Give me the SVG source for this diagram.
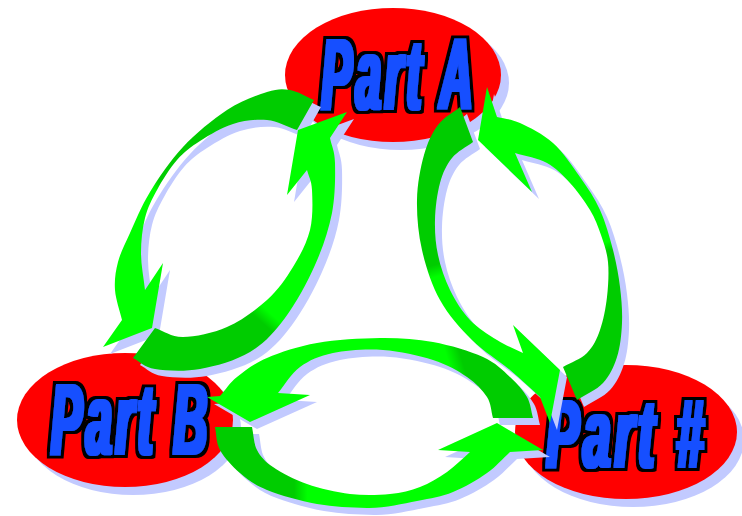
<svg xmlns="http://www.w3.org/2000/svg" xmlns:xlink="http://www.w3.org/1999/xlink" width="742" height="516" viewBox="0 0 742 516">
<style>
.sh{fill:#c2caff}
.el{fill:#ff0000}
.lbl{filter:url(#fat)}
.txt{font-family:"Liberation Sans",Arial,sans-serif;font-weight:bold;font-style:italic;font-size:100px;letter-spacing:8px;fill:#1450ff;text-anchor:middle}
</style>
<defs>
<filter id="fat" x="-15%" y="-20%" width="130%" height="140%">
<feMorphology in="SourceAlpha" operator="dilate" radius="2 1" result="a"/>
<feFlood flood-color="#1450ff"/>
<feComposite in2="a" operator="in" result="blue"/>
<feMorphology in="a" operator="dilate" radius="2.5" result="b"/>
<feFlood flood-color="#000000"/>
<feComposite in2="b" operator="in" result="black"/>
<feMerge><feMergeNode in="black"/><feMergeNode in="blue"/></feMerge>
</filter>
<linearGradient id="gL1" gradientUnits="userSpaceOnUse" x1="110" y1="300" x2="300" y2="100"><stop offset="0" stop-color="#00ff00"/><stop offset="0.40" stop-color="#00ff00"/><stop offset="0.44" stop-color="#00cc00"/><stop offset="1" stop-color="#00cc00"/></linearGradient>
<linearGradient id="gL2" gradientUnits="userSpaceOnUse" x1="133" y1="358" x2="340" y2="125"><stop offset="0" stop-color="#00cc00"/><stop offset="0.36" stop-color="#00cc00"/><stop offset="0.40" stop-color="#00ff00"/><stop offset="1" stop-color="#00ff00"/></linearGradient>
<linearGradient id="gR1" gradientUnits="userSpaceOnUse" x1="465" y1="115" x2="545" y2="400"><stop offset="0" stop-color="#00cc00"/><stop offset="0.46" stop-color="#00cc00"/><stop offset="0.50" stop-color="#00ff00"/><stop offset="1" stop-color="#00ff00"/></linearGradient>
<linearGradient id="gR2" gradientUnits="userSpaceOnUse" x1="577" y1="395" x2="490" y2="100"><stop offset="0" stop-color="#00cc00"/><stop offset="0.42" stop-color="#00cc00"/><stop offset="0.45" stop-color="#00ff00"/><stop offset="1" stop-color="#00ff00"/></linearGradient>
<linearGradient id="gB1" gradientUnits="userSpaceOnUse" x1="210" y1="420" x2="540" y2="320"><stop offset="0" stop-color="#00ff00"/><stop offset="0.71" stop-color="#00ff00"/><stop offset="0.75" stop-color="#00cc00"/><stop offset="1" stop-color="#00cc00"/></linearGradient>
<linearGradient id="gB2" gradientUnits="userSpaceOnUse" x1="215" y1="440" x2="545" y2="440"><stop offset="0" stop-color="#00cc00"/><stop offset="0.24" stop-color="#00cc00"/><stop offset="0.28" stop-color="#00ff00"/><stop offset="1" stop-color="#00ff00"/></linearGradient>
<path id="pL1" d="M314,100 C306,96.7 297.8,91.3 290,90 C282.2,88.7 277.5,88.7 267,92 C256.5,95.3 241,100.8 227,110 C213,119.2 195.8,133.3 183,147 C170.2,160.7 158.8,177.7 150,192 C141.2,206.3 135.3,221.3 130,233 C124.7,244.7 120.5,252.5 118,262 C115.5,271.5 114.3,280.3 115,290 C115.7,299.7 119.7,310 122,320 L103,347 L152,328 L163,263 L145,290 C143.7,277.7 141,265 141,253 C141,241 142.3,228.5 145,218 C147.7,207.5 151.7,199.7 157,190 C162.3,180.3 169.8,168.2 177,160 C184.2,151.8 190.7,147 200,141 C209.3,135 221.8,127.5 233,124 C244.2,120.5 256.3,119 267,120 C277.7,121 287,126.7 297,130 Z"/>
<path id="pL2" d="M133,358 C140.3,361.7 143.8,367.2 155,369 C166.2,370.8 184.2,371.8 200,369 C215.8,366.2 235.8,360.5 250,352 C264.2,343.5 274.2,332.5 285,318 C295.8,303.5 307.2,282.5 315,265 C322.8,247.5 328.7,230 332,213 C335.3,196 335.3,175.5 335,163 C334.7,150.5 331.7,146.3 330,138 L347,112 L298,130 L287,195 L307,170 C308.7,176.7 311.5,180 312,190 C312.5,200 313.2,217.2 310,230 C306.8,242.8 300.2,255.3 293,267 C285.8,278.7 278,290 267,300 C256,310 241,320.8 227,327 C213,333.2 195,336.8 183,337 C171,337.2 164.3,331 155,328 Z"/>
<path id="pR1" d="M460,107 C452.7,113 444,117 438,125 C432,133 427.5,142.5 424,155 C420.5,167.5 417.3,184.2 417,200 C416.7,215.8 418.2,233.3 422,250 C425.8,266.7 431.7,285 440,300 C448.3,315 460.3,328.3 472,340 C483.7,351.7 498.7,360.5 510,370 C521.3,379.5 530,388 540,397 L550,423 L560,370 L513,325 L523,353 C514.3,348.7 505.8,345.5 497,340 C488.2,334.5 477.8,328.3 470,320 C462.2,311.7 455.3,300.8 450,290 C444.7,279.2 440.5,266.7 438,255 C435.5,243.3 434.7,232 435,220 C435.3,208 437.2,193.3 440,183 C442.8,172.7 446.5,164.8 452,158 C457.5,151.2 466,147.3 473,142 Z"/>
<path id="pR2" d="M577,400 C585.7,394.3 596.3,390.2 603,383 C609.7,375.8 613.8,367 617,357 C620.2,347 621.5,334.7 622,323 C622.5,311.3 621.5,299.2 620,287 C618.5,274.8 616.3,262.8 613,250 C609.7,237.2 605.5,222.2 600,210 C594.5,197.8 587.8,188.2 580,177 C572.2,165.8 563,152 553,143 C543,134 529.3,127.3 520,123 C510.7,118.7 504.7,119 497,117 L487,87 L478,140 L532,192 L515,153 C525.7,156.3 537.8,158 547,163 C556.2,168 562.8,175.2 570,183 C577.2,190.8 584.8,201.3 590,210 C595.2,218.7 598,226.3 601,235 C604,243.7 607,251.7 608,262 C609,272.3 608.3,285.7 607,297 C605.7,308.3 603.3,320.7 600,330 C596.7,339.3 593.2,346.8 587,353 C580.8,359.2 571,362.3 563,367 Z"/>
<path id="pB1" d="M533,418 C531,411 530.8,403.8 527,397 C523.2,390.2 517.3,383.7 510,377 C502.7,370.3 495.8,362.8 483,357 C470.2,351.2 450.2,345.2 433,342 C415.8,338.8 399.3,337.8 380,338 C360.7,338.2 335.8,339.7 317,343 C298.2,346.3 280.3,352.3 267,358 C253.7,363.7 244.8,370.7 237,377 C229.2,383.3 225.7,389.7 220,396 L207,397 L250,422 L310,395 L278,393 C285.3,384.3 290.8,373.7 300,367 C309.2,360.3 319.2,355.8 333,353 C346.8,350.2 366.3,348.8 383,350 C399.7,351.2 419,355.5 433,360 C447,364.5 458,370.8 467,377 C476,383.2 482.7,390.2 487,397 C491.3,403.8 491,411 493,418 Z"/>
<path id="pB2" d="M215,427 C216.7,434.7 215.8,442.3 220,450 C224.2,457.7 232.2,466.3 240,473 C247.8,479.7 254.2,484.8 267,490 C279.8,495.2 300.3,501 317,504 C333.7,507 350.3,507.5 367,508 C383.7,508.5 402.7,503.7 417,501 C431.3,498.3 441.3,496.7 453,492 C464.7,487.3 477.5,479.7 487,473 C496.5,466.3 502.3,459 510,452 L543,450 L497,423 L438,450 L470,452 C462.3,458.7 455.3,466.2 447,472 C438.7,477.8 429.5,483.3 420,487 C410.5,490.7 401.7,492.8 390,494 C378.3,495.2 363.8,495.7 350,494 C336.2,492.3 319.8,488.5 307,484 C294.2,479.5 281.3,472.7 273,467 C264.7,461.3 260.5,456.7 257,450 C253.5,443.3 253.7,434.7 252,427 Z"/>
</defs>
<g id="partA">
<ellipse class="sh" cx="401" cy="83" rx="108" ry="67"/>
<ellipse class="el" cx="393" cy="75" rx="108" ry="67"/>
<g class="lbl"><text class="txt" transform="translate(399,109) scale(0.457,1)">Part A</text></g>
</g>
<g id="partB">
<ellipse class="sh" cx="133" cy="428" rx="108" ry="67"/>
<ellipse class="el" cx="125" cy="420" rx="108" ry="67"/>
<g class="lbl"><text class="txt" transform="translate(131,454) scale(0.467,1)">Part B</text></g>
</g>
<g id="partHash">
<ellipse class="sh" cx="633" cy="440" rx="111" ry="67"/>
<ellipse class="el" cx="626" cy="432" rx="111" ry="67"/>
<g class="lbl"><text class="txt" style="font-size:97px" transform="translate(627,467) scale(0.508,1)">Part #</text></g>
</g>
<g id="connectors">
<g id="pairLeft">
<use xlink:href="#pL1" class="sh" transform="translate(7,7)"/>
<use xlink:href="#pL2" class="sh" transform="translate(7,7)"/>
<use xlink:href="#pL1" fill="url(#gL1)"/>
<use xlink:href="#pL2" fill="url(#gL2)"/>
</g>
<g id="pairRight">
<use xlink:href="#pR1" class="sh" transform="translate(7,7)"/>
<use xlink:href="#pR2" class="sh" transform="translate(7,7)"/>
<use xlink:href="#pR1" fill="url(#gR1)"/>
<use xlink:href="#pR2" fill="url(#gR2)"/>
</g>
<g id="pairBottom">
<use xlink:href="#pB1" class="sh" transform="translate(7,7)"/>
<use xlink:href="#pB2" class="sh" transform="translate(7,7)"/>
<use xlink:href="#pB1" fill="url(#gB1)"/>
<use xlink:href="#pB2" fill="url(#gB2)"/>
</g>
</g>
</svg>
